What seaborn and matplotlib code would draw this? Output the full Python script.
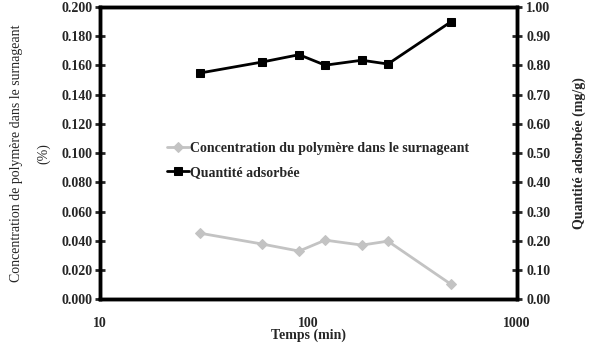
import matplotlib
matplotlib.use("Agg")
import matplotlib.pyplot as plt
import seaborn as sns
import pandas as pd

temps = [30, 60, 90, 120, 180, 240, 480]
concentration = [0.0452, 0.0377, 0.0329, 0.0404, 0.0370, 0.0397, 0.0103]
quantite = [0.774, 0.812, 0.837, 0.801, 0.818, 0.805, 0.949]

sns.set_style("white")
plt.rcParams['font.family'] = ['Liberation Serif', 'DejaVu Serif']

df = pd.DataFrame({"temps": temps, "conc": concentration, "q": quantite})

fig = plt.figure(figsize=(5.89, 3.54), dpi=100)
ax = fig.add_axes([0.170, 0.155, 0.708, 0.825])
ax2 = ax.twinx()

sns.lineplot(data=df, x="temps", y="conc", ax=ax, color="#c3c3c3", lw=2,
             marker="D", markersize=5, markeredgecolor="#c3c3c3",
             label="Concentration du polymère dans le surnageant", legend=False)
sns.lineplot(data=df, x="temps", y="q", ax=ax2, color="black", lw=2,
             marker="s", markersize=6, markeredgecolor="black",
             label="Quantité adsorbée", legend=False)

ax.set_xscale("log")
ax.set_xlim(10, 1000)
ax.set_ylim(0, 0.2)
ax2.set_ylim(0, 1.0)
ax.set_yticks([i * 0.02 for i in range(11)])
ax.set_yticklabels([f"{i*0.02:.3f}" for i in range(11)])
ax2.set_yticks([i * 0.1 for i in range(11)])
ax2.set_yticklabels([f"{i*0.1:.2f}" for i in range(11)])
ax.set_xticks([10, 100, 1000])
ax.set_xticklabels(["10", "100", "1000"])
ax.xaxis.set_minor_locator(matplotlib.ticker.NullLocator())

fs = 10
for a in (ax, ax2):
    for s in a.spines.values():
        s.set_linewidth(2.5)
        s.set_color("black")
ax.tick_params(axis="y", direction="inout", length=7, width=2, labelsize=fs, pad=2)
ax2.tick_params(axis="y", direction="inout", length=7, width=2, labelsize=fs, pad=3)
ax.tick_params(axis="x", direction="out", length=4, width=2, labelsize=fs, pad=9)
for lab in ax.get_yticklabels() + ax2.get_yticklabels() + ax.get_xticklabels():
    lab.set_fontweight("bold")

ax.set_xlabel("Temps (min)", fontsize=fs, fontweight="bold", labelpad=-1)
ax.set_ylabel("Concentration de polymère dans le surnageant\n(%)", fontsize=fs,
              labelpad=8, linespacing=2.3)
ax2.set_ylabel("Quantité adsorbée (mg/g)", fontsize=fs, fontweight="bold", labelpad=16)

h1, l1 = ax.get_legend_handles_labels()
h2, l2 = ax2.get_legend_handles_labels()
leg = ax.legend(h1 + h2, l1 + l2, loc="upper left", bbox_to_anchor=(0.13, 0.58),
                frameon=False, handlelength=1.6, handletextpad=0.1,
                labelspacing=0.8, prop={"weight": "bold", "size": fs})

fig.savefig("out.png", dpi=100)
